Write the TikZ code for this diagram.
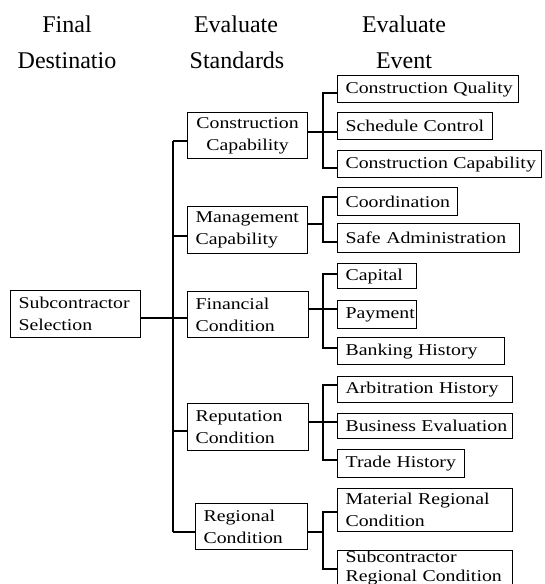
\documentclass[tikz,border=0pt]{standalone}
\usepackage{fontspec}
\setmainfont{Liberation Serif}
\newfontfamily\boxfont[FakeStretch=1.2]{Liberation Serif}
\newfontfamily\headfont{Liberation Serif}
\newcommand\nbx[1]{\mbox{#1}}
\begin{document}
\begin{tikzpicture}[x=1pt,y=-1pt,
  line width=1.2pt,
  hd/.style={font=\headfont\fontsize{24}{28}\selectfont, anchor=base, inner sep=0pt},
  bx/.style={draw, line width=1.2pt, anchor=north west, inner xsep=8pt, inner ysep=0pt,
             align=left, font=\boxfont\fontsize{16.5}{22}\selectfont},
  conn/.style={draw, line width=1.2pt}
]
\path[use as bounding box, fill=white] (0,0) rectangle (544,584);
\clip (0,0) rectangle (544,584);

% headers
\node[hd] (h1a) at (67,32) {Final};
\node[hd] (h1b) at (67,68) {Destinatio};
\node[hd] (h2a) at (236,32) {Evaluate};
\node[hd] (h2b) at (237,68) {Standards};
\node[hd] (h3a) at (404,32) {Evaluate};
\node[hd] (h3b) at (404,68) {Event};

% root
\node[bx, text width=114pt, minimum height=47pt] (root) at (10,290) {\nbx{Subcontractor}\\\nbx{Selection}};

% standards
\node[bx, align=center, text width=104pt, minimum height=46pt] (cs) at (187,112) {\nbx{Construction}\\\nbx{Capability}};
\node[bx, text width=104pt, minimum height=47pt] (ms) at (187,206) {\nbx{Management}\\\nbx{Capability}};
\node[bx, text width=105pt, minimum height=46pt] (fin) at (187,291) {\nbx{Financial}\\\nbx{Condition}};
\node[bx, text width=105pt, minimum height=47pt] (rep) at (187,403) {\nbx{Reputation}\\\nbx{Condition}};
\node[bx, text width=96pt, minimum height=46pt] (reg) at (195,503) {\nbx{Regional}\\\nbx{Condition}};

% events
\node[bx, text width=165pt, minimum height=27pt] (cq) at (337,75) {\nbx{Construction Quality}};
\node[bx, text width=139pt, minimum height=27pt] (sc) at (337,112) {\nbx{Schedule Control}};
\node[bx, text width=188pt, minimum height=27pt] (cc) at (337,150) {\nbx{Construction Capability}};
\node[bx, text width=104pt, minimum height=28pt] (co) at (337,187) {\nbx{Coordination}};
\node[bx, text width=166pt, minimum height=29pt] (sa) at (337,223) {\nbx{Safe Administration}};
\node[bx, text width=63pt, minimum height=25pt] (ca) at (337,263) {\nbx{Capital}};
\node[bx, text width=63pt, minimum height=28pt] (pa) at (337,300) {\nbx{Payment}};
\node[bx, text width=151pt, minimum height=27pt] (bh) at (337,337) {\nbx{Banking History}};
\node[bx, text width=159pt, minimum height=26pt] (ah) at (337,376) {\nbx{Arbitration History}};
\node[bx, text width=159pt, minimum height=25pt] (be) at (337,413) {\nbx{Business Evaluation}};
\node[bx, text width=111pt, minimum height=28pt] (th) at (337,449) {\nbx{Trade History}};
\node[bx, text width=159pt, minimum height=43pt] (mr) at (337,488) {\nbx{Material Regional}\\\nbx{Condition}};
\node[bx, text width=159pt, minimum height=43pt, text depth=32pt,
      font=\boxfont\fontsize{16.5}{19}\selectfont] (sr) at (337,550) {\nbx{Subcontractor}\\\nbx{Regional Condition}};

% trunk coordinates
\coordinate (t1) at (173,141);
\coordinate (t2) at (173,236);
\coordinate (t3) at (173,318);
\coordinate (t4) at (173,431);
\coordinate (t5) at (173,532);

\draw[conn] (t1) -- (t5);
\draw[conn] (root.east |- t3) -- (fin.west |- t3);
\draw[conn] (t1) -- (cs.west |- t1);
\draw[conn] (t2) -- (ms.west |- t2);
\draw[conn] (t4) -- (rep.west |- t4);
\draw[conn] (t5) -- (reg.west |- t5);

% group 1
\coordinate (g1) at (323,132);
\coordinate (g1a) at (323,93);
\coordinate (g1c) at (323,168);
\draw[conn] (cs.east |- g1) -- (sc.west |- g1);
\draw[conn] (cq.west |- g1a) -- (g1a) -- (g1c) -- (cc.west |- g1c);

% group 2
\coordinate (g2) at (323,224);
\coordinate (g2a) at (323,197);
\coordinate (g2c) at (323,242);
\draw[conn] (ms.east |- g2) -- (g2);
\draw[conn] (co.west |- g2a) -- (g2a) -- (g2c) -- (sa.west |- g2c);

% group 3
\coordinate (g3) at (323,309);
\coordinate (g3a) at (323,274);
\coordinate (g3c) at (323,348);
\draw[conn] (fin.east |- g3) -- (pa.west |- g3);
\draw[conn] (ca.west |- g3a) -- (g3a) -- (g3c) -- (bh.west |- g3c);

% group 4
\coordinate (g4) at (323,422);
\coordinate (g4a) at (323,385);
\coordinate (g4c) at (323,460);
\draw[conn] (rep.east |- g4) -- (be.west |- g4);
\draw[conn] (ah.west |- g4a) -- (g4a) -- (g4c) -- (th.west |- g4c);

% group 5
\coordinate (g5) at (323,532);
\coordinate (g5a) at (323,512);
\coordinate (g5c) at (323,569);
\draw[conn] (reg.east |- g5) -- (g5);
\draw[conn] (mr.west |- g5a) -- (g5a) -- (g5c) -- (sr.west |- g5c);
\end{tikzpicture}
\end{document}
